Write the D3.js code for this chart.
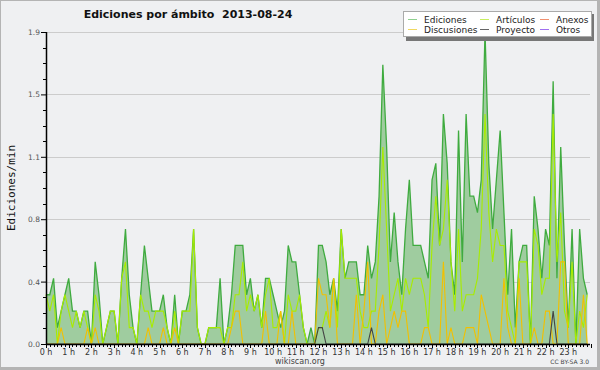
<!DOCTYPE html>
<html>
<head>
<meta charset="utf-8">
<script src="https://cdn.jsdelivr.net/npm/d3@7"></script>
<style>
  body { margin: 0; background: #fff; }
  svg { display: block; }
</style>
</head>
<body>
<svg id="chart" width="600" height="370"></svg>
<script>
// Edits per minute, one value per 10 minute slot (144 slots over the day)
const ediciones = [
  0.3,0.3,0.4,0.1,0.2,0.3, 0.4,0.2,0.2,0.1,0.2,0.2, 0.0,0.5,0.3,0.0,0.1,0.2, 0.2,0.0,0.4,0.7,0.3,0.1,
  0.0,0.3,0.6,0.4,0.2,0.2, 0.2,0.3,0.1,0.0,0.3,0.0, 0.2,0.2,0.3,0.7,0.1,0.0, 0.0,0.1,0.1,0.1,0.4,0.0,
  0.1,0.3,0.6,0.6,0.6,0.3, 0.4,0.2,0.3,0.1,0.4,0.4, 0.3,0.2,0.1,0.2,0.6,0.5, 0.5,0.3,0.1,0.0,0.1,0.0,
  0.6,0.6,0.5,0.3,0.4,0.2, 0.7,0.4,0.5,0.5,0.5,0.3, 0.3,0.6,0.4,0.5,0.9,1.7, 1.2,0.5,0.8,0.5,0.3,0.7,
  1.0,0.6,0.6,0.6,0.5,0.4, 1.0,1.1,0.6,1.4,1.1,0.5, 0.3,1.3,0.5,1.4,0.9,0.9, 0.8,1.0,1.9,1.1,0.7,1.0,
  1.3,0.8,0.3,0.7,0.1,0.5, 0.6,0.6,0.0,0.9,0.7,0.4, 0.7,0.6,1.6,0.4,1.2,0.6, 0.1,0.7,0.0,0.7,0.4,0.3
];
const articulos = [
  0.3,0.2,0.3,0.0,0.2,0.3, 0.2,0.1,0.2,0.1,0.2,0.1, 0.0,0.3,0.2,0.0,0.1,0.2, 0.2,0.0,0.4,0.5,0.1,0.1,
  0.0,0.3,0.2,0.2,0.1,0.2, 0.2,0.2,0.1,0.0,0.2,0.0, 0.2,0.2,0.2,0.7,0.1,0.0, 0.0,0.1,0.1,0.1,0.1,0.0,
  0.1,0.1,0.3,0.3,0.5,0.2, 0.3,0.2,0.3,0.1,0.3,0.4, 0.1,0.1,0.2,0.0,0.3,0.2, 0.2,0.3,0.1,0.0,0.0,0.0,
  0.1,0.1,0.2,0.1,0.4,0.1, 0.7,0.4,0.4,0.4,0.4,0.2, 0.1,0.1,0.2,0.2,0.6,1.2, 0.7,0.2,0.3,0.4,0.2,0.4,
  0.3,0.4,0.4,0.4,0.3,0.1, 0.6,0.9,0.6,0.7,1.0,0.5, 0.2,0.7,0.2,0.3,0.3,0.3, 0.4,0.7,1.4,0.8,0.5,0.7,
  0.6,0.6,0.2,0.1,0.0,0.5, 0.5,0.5,0.0,0.7,0.6,0.3, 0.4,0.4,1.4,0.5,0.8,0.2, 0.1,0.5,0.0,0.2,0.1,0.3
];
const anexos = [
  0,0,0,0,0,0, 0,0,0,0,0,0, 0,0,0,0,0,0, 0,0,0,0,0,0,
  0,0,0,0,0,0, 0,0,0,0,0,0, 0,0,0,0,0,0, 0,0,0,0,0,0,
  0,0,0,0,0,0, 0,0,0,0,0,0, 0,0,0,0,0,0, 0,0,0,0,0,0,
  0,0,0,0,0,0, 0,0,0,0,0,0, 0,0,0,0,0,0, 0,0,0,0,0,0,
  0,0,0,0,0,0, 0,0,0,0,0,0, 0,0,0,0,0,0, 0,0,0,0,0,0,
  0,0,0,0,0,0, 0,0,0,0,0,0, 0,0,0,0,0,0, 0,0,0,0,0,0
];
const discusiones = [
  0.0,0.0,0.0,0.0,0.1,0.0, 0.0,0.0,0.0,0.0,0.0,0.1, 0.0,0.1,0.0,0.0,0.0,0.0, 0.0,0.0,0.0,0.0,0.0,0.0,
  0.0,0.0,0.0,0.1,0.0,0.0, 0.0,0.1,0.0,0.0,0.1,0.0, 0.0,0.0,0.0,0.0,0.0,0.0, 0.0,0.0,0.0,0.0,0.0,0.0,
  0.0,0.1,0.2,0.2,0.0,0.0, 0.0,0.0,0.0,0.0,0.2,0.0, 0.0,0.0,0.2,0.0,0.0,0.2, 0.0,0.0,0.0,0.0,0.0,0.0,
  0.4,0.3,0.3,0.1,0.4,0.0, 0.0,0.0,0.0,0.0,0.3,0.0, 0.2,0.5,0.0,0.0,0.2,0.3, 0.0,0.1,0.2,0.1,0.2,0.2,
  0.0,0.0,0.0,0.0,0.1,0.1, 0.0,0.0,0.0,0.5,0.0,0.1, 0.0,0.0,0.0,0.1,0.1,0.1, 0.0,0.3,0.2,0.1,0.0,0.0,
  0.0,0.4,0.1,0.0,0.0,0.4, 0.0,0.0,0.0,0.1,0.0,0.0, 0.2,0.2,0.0,0.0,0.5,0.5, 0.0,0.0,0.0,0.0,0.3,0.0
];
const proyecto = [
  0,0,0,0,0,0, 0,0,0,0,0,0, 0,0,0,0,0,0, 0,0,0,0,0,0,
  0,0,0,0,0,0, 0,0,0,0,0,0, 0,0,0,0,0,0, 0,0,0,0,0,0,
  0,0,0,0,0,0, 0,0,0,0,0,0, 0,0,0,0,0,0, 0,0,0,0,0,0,
  0.1,0.1,0,0,0,0, 0,0,0,0,0,0, 0,0,0.1,0,0,0, 0,0,0,0,0,0,
  0,0,0,0,0,0, 0,0,0,0,0,0, 0,0,0,0,0,0, 0,0,0,0,0,0,
  0,0,0,0,0,0, 0,0,0,0,0,0, 0,0,0.2,0,0,0, 0,0,0,0,0,0
];
const otros = anexos.map(() => 0);

const HOUR_LABELS = ["0 h","1 h","2 h","3 h","4 h","5 h","6 h","7 h","8 h","9 h","10 h","11 h",
  "12 h","13 h","14 h","15 h","16 h","17 h","18 h","19 h","20 h","21 h","22 h","23 h"];
const Y_TICKS = [0, 0.38, 0.76, 1.14, 1.52, 1.9];
const Y_LABELS = ["0.0", "0.4", "0.8", "1.1", "1.5", "1.9"];
const SLOTS_PER_HOUR = 6;

// legend order: 3 columns x 2 rows
const SERIES = [
  { name: "Ediciones",   values: ediciones,   color: "#3fab3f", key: "#8fd08f", width: 1.3 },
  { name: "Artículos",   values: articulos,   color: "#a8ec00", key: "#c8ee60", width: 1.1 },
  { name: "Anexos",      values: anexos,      color: "#f08040", key: "#f09070", width: 1.1 },
  { name: "Discusiones", values: discusiones, color: "#f2c000", key: "#f0d860", width: 1.1 },
  { name: "Proyecto",    values: proyecto,    color: "#444444", key: "#666666", width: 1.1 },
  { name: "Otros",       values: otros,       color: "#9040e0", key: "#a070f0", width: 1.1 }
];

const W = 600, H = 370;
const plot = { left: 46, right: 590, top: 32, bottom: 344 };
const FONT = "DejaVu Sans, Verdana, sans-serif";

const svg = d3.select("#chart");

const x = d3.scaleLinear().domain([0, 24]).range([plot.left, plot.left + 545]);
const y = d3.scaleLinear().domain([0, 1.9]).range([plot.bottom, plot.top]);

// background + frame
svg.append("rect").attr("x", 0).attr("y", 0).attr("width", W).attr("height", H).attr("fill", "#b4b4b4");
svg.append("rect").attr("x", 1).attr("y", 1).attr("width", W - 4).attr("height", H - 4).attr("fill", "#eff0f2");

// title
svg.append("text")
  .attr("x", 188).attr("y", 18)
  .attr("text-anchor", "middle")
  .attr("font-family", FONT).attr("font-weight", "bold").attr("font-size", 11)
  .attr("fill", "#111")
  .attr("xml:space", "preserve")
  .text("Ediciones por ámbito  2013-08-24");

// horizontal grid
svg.append("g").selectAll("line")
  .data(Y_TICKS.slice(1))
  .join("line")
  .attr("x1", plot.left).attr("x2", plot.right)
  .attr("y1", d => Math.round(y(d)) + 0.5).attr("y2", d => Math.round(y(d)) + 0.5)
  .attr("stroke", "#cccccc").attr("stroke-width", 1);

// Ediciones area
const slotX = (d, i) => x(i / SLOTS_PER_HOUR);
const area = d3.area().x(slotX).y0(y(0)).y1(d => y(d));
svg.append("path")
  .datum(ediciones)
  .attr("d", area)
  .attr("fill", "#9fcc9f");

// series lines
const line = d3.line().x(slotX).y(d => y(d));
SERIES.forEach(s => {
  if (d3.max(s.values) === 0) return;
  svg.append("path")
    .datum(s.values)
    .attr("d", line)
    .attr("fill", "none")
    .attr("stroke", s.color)
    .attr("stroke-width", s.width)
    .attr("stroke-linejoin", "miter");
});

// y axis
const yAxis = d3.axisLeft(y)
  .tickValues(Y_TICKS)
  .tickFormat((d, i) => Y_LABELS[i])
  .tickSize(5).tickPadding(1);
const gy = svg.append("g").attr("transform", `translate(${plot.left},0)`).call(yAxis);
gy.select(".domain").remove();
gy.selectAll("text").attr("font-family", FONT).attr("font-size", 7.5).attr("fill", "#555");

// y minor ticks
const yMinor = d3.range(0, 21).map(k => k * 0.095).filter((d, k) => k % 4 !== 0);
svg.append("g").selectAll("line")
  .data(yMinor)
  .join("line")
  .attr("x1", plot.left - 3).attr("x2", plot.left)
  .attr("y1", d => Math.round(y(d)) + 0.5).attr("y2", d => Math.round(y(d)) + 0.5)
  .attr("stroke", "#000");

svg.append("line")
  .attr("x1", plot.left + 0.5).attr("x2", plot.left + 0.5)
  .attr("y1", plot.top).attr("y2", plot.bottom + 1)
  .attr("stroke", "#000").attr("stroke-width", 1.5);

// x axis ticks, one per 10 minutes
svg.append("g").selectAll("line")
  .data(d3.range(0, 24 * SLOTS_PER_HOUR + 1))
  .join("line")
  .attr("x1", k => Math.round(x(k / SLOTS_PER_HOUR)) + 0.5)
  .attr("x2", k => Math.round(x(k / SLOTS_PER_HOUR)) + 0.5)
  .attr("y1", plot.bottom).attr("y2", k => plot.bottom + (k % SLOTS_PER_HOUR === 0 ? 4 : 3))
  .attr("stroke", "#000");

svg.append("line")
  .attr("x1", plot.left).attr("x2", plot.right)
  .attr("y1", plot.bottom + 0.5).attr("y2", plot.bottom + 0.5)
  .attr("stroke", "#000").attr("stroke-width", 1.5);

svg.append("g").selectAll("text")
  .data(HOUR_LABELS)
  .join("text")
  .attr("x", (d, i) => x(i))
  .attr("y", 355)
  .attr("text-anchor", "middle")
  .attr("font-family", FONT).attr("font-size", 8).attr("fill", "#333")
  .text(d => d);

// y label
svg.append("text")
  .attr("transform", "translate(15,188) rotate(-90)")
  .attr("text-anchor", "middle")
  .attr("font-family", "DejaVu Sans Mono, monospace").attr("font-size", 11)
  .attr("fill", "#111")
  .text("Ediciones/min");

// footer
svg.append("text")
  .attr("x", 300).attr("y", 364)
  .attr("text-anchor", "middle")
  .attr("font-family", FONT).attr("font-size", 8).attr("fill", "#444")
  .text("wikiscan.org");
svg.append("text")
  .attr("x", 589).attr("y", 364)
  .attr("text-anchor", "end")
  .attr("font-family", FONT).attr("font-size", 6).attr("fill", "#444")
  .text("CC BY-SA 3.0");

// legend
const lg = svg.append("g");
lg.append("rect").attr("x", 406).attr("y", 14).attr("width", 188).attr("height", 27).attr("fill", "#777");
lg.append("rect").attr("x", 403.5).attr("y", 11.5).attr("width", 188).attr("height", 25)
  .attr("fill", "#ffffff").attr("stroke", "#aaaaaa");
const colX = [408, 480, 540];
const rowY = [19, 29];
SERIES.forEach((s, i) => {
  const cx = colX[i % 3], cy = rowY[Math.floor(i / 3)];
  lg.append("line")
    .attr("x1", cx).attr("x2", cx + 9)
    .attr("y1", cy + 0.5).attr("y2", cy + 0.5)
    .attr("stroke", s.key).attr("stroke-width", 1);
  lg.append("text")
    .attr("x", cx + 16).attr("y", cy + 3.5)
    .attr("font-family", FONT).attr("font-size", 9).attr("fill", "#222")
    .text(s.name);
});
</script>
</body>
</html>
